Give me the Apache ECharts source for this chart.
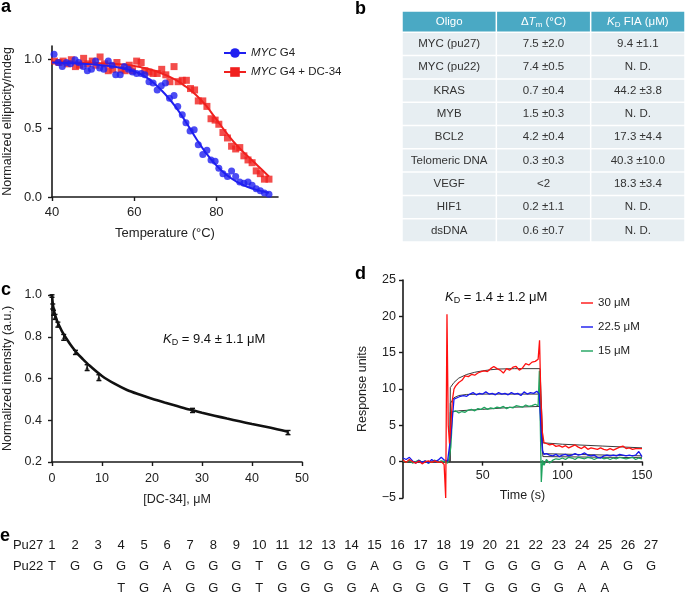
<!DOCTYPE html>
<html><head><meta charset="utf-8">
<script src="https://cdn.jsdelivr.net/npm/echarts@6/dist/echarts.min.js"></script>
<style>html,body{margin:0;padding:0;background:#fff}#c{width:685px;height:594px}</style>
</head><body><div id="c"></div>
<script>
// ---------- Panel a data ----------
const blueCD = [[40.5,1.04],[41.5,0.98],[42.5,0.95],[43.5,0.98],[44.5,0.97],[45.6,1.00],[46.5,0.98],[47.6,0.95],[48.6,0.92],[49.6,0.93],[50.6,0.99],[51.6,0.94],[52.6,0.93],[53.7,0.99],[54.6,0.96],[55.5,0.89],[56.6,0.89],[57.6,0.95],[58.6,0.93],[59.6,0.91],[60.6,0.90],[61.7,0.90],[62.6,0.89],[63.6,0.84],[64.6,0.83],[65.6,0.78],[66.6,0.81],[67.6,0.83],[68.6,0.72],[69.7,0.74],[70.6,0.66],[71.7,0.60],[72.6,0.54],[73.6,0.48],[74.6,0.49],[75.6,0.38],[76.7,0.31],[77.7,0.34],[78.7,0.27],[79.7,0.26],[80.6,0.21],[81.6,0.17],[82.7,0.15],[83.7,0.19],[84.7,0.15],[85.7,0.11],[86.7,0.10],[87.7,0.11],[88.7,0.085],[89.7,0.06],[90.7,0.045],[91.7,0.03],[92.8,0.02]];
const redCD = [[40.6,0.99],[41.7,0.98],[42.7,0.99],[43.7,0.97],[44.7,1.00],[45.7,0.95],[46.7,0.96],[47.7,1.01],[48.7,0.97],[49.8,0.99],[50.7,0.96],[51.7,1.02],[52.8,0.97],[53.7,0.92],[54.8,0.93],[55.8,0.98],[56.8,0.93],[57.8,0.92],[58.8,0.96],[59.6,0.92],[60.6,0.99],[61.7,0.98],[62.6,0.92],[63.6,0.91],[64.6,0.90],[65.6,0.90],[66.7,0.93],[67.7,0.89],[68.7,0.84],[69.7,0.95],[70.7,0.84],[71.7,0.85],[72.7,0.85],[73.7,0.79],[74.7,0.78],[75.6,0.70],[76.7,0.70],[77.7,0.66],[78.7,0.57],[79.7,0.56],[80.6,0.53],[81.6,0.47],[82.7,0.43],[83.7,0.37],[84.7,0.35],[85.7,0.36],[86.7,0.30],[87.7,0.27],[88.7,0.25],[89.7,0.19],[90.7,0.17],[91.7,0.13],[92.8,0.13]];
const blueFit = [[40,0.98],[45,0.975],[50,0.965],[55,0.95],[60,0.915],[62.5,0.88],[65,0.825],[67.5,0.75],[70,0.66],[72.5,0.55],[75,0.43],[77.5,0.32],[80,0.23],[82.5,0.16],[85,0.11],[87.5,0.075],[90,0.05],[92.8,0.03]];
const redFit = [[40,0.985],[45,0.98],[50,0.975],[55,0.97],[60,0.955],[65,0.92],[70,0.855],[72.5,0.805],[75,0.745],[77.5,0.665],[80,0.565],[82.5,0.465],[85,0.375],[87.5,0.3],[90,0.23],[92.8,0.15]];
const legendA = ['MYC G4','MYC G4 + DC-34'];

// ---------- Panel b data ----------
const tableHeaders = ['Oligo','{n|\u0394}{i|T}{s|m} (\u00b0C)','{i|K}{s|D} FIA (\u03bcM)'];
const oligos = ['MYC (pu27)','MYC (pu22)','KRAS','MYB','BCL2','Telomeric DNA','VEGF','HIF1','dsDNA'];
const dTm = ['7.5 \u00b12.0','7.4 \u00b10.5','0.7 \u00b10.4','1.5 \u00b10.3','4.2 \u00b10.4','0.3 \u00b10.3','<2','0.2 \u00b11.1','0.6 \u00b10.7'];
const kdFIA = ['9.4 \u00b11.1','N. D.','44.2 \u00b13.8','N. D.','17.3 \u00b14.4','40.3 \u00b110.0','18.3 \u00b13.4','N. D.','N. D.'];

// ---------- Panel c data ----------
const fiaPts = [[0,0.995,0.006],[0.15,0.945,0.012],[0.3,0.915,0.012],[0.6,0.895,0.012],[1.17,0.858,0.012],[2.34,0.797,0.014],[4.69,0.725,0.01],[7.03,0.652,0.014],[9.38,0.604,0.014],[28.1,0.447,0.01],[47.2,0.341,0.01]];
const fiaFit = [[0,1.0],[0.2,0.95],[0.5,0.915],[1,0.877],[1.5,0.85],[2,0.826],[3,0.787],[4,0.752],[5,0.722],[6,0.697],[7.5,0.662],[10,0.612],[12.5,0.575],[15,0.545],[17.5,0.523],[20,0.503],[22.5,0.485],[25,0.468],[27.5,0.451],[30,0.436],[32.5,0.422],[35,0.408],[37.5,0.395],[40,0.382],[42.5,0.37],[45,0.357],[47.2,0.345]];

// ---------- Panel d data ----------
const spr30 = [[0,0.2],[2,-0.1],[4,0.3],[6,0.0],[8,-0.2],[10,0.1],[12,-0.3],[14,0.0],[16,0.1],[18,-0.1],[20,0.1],[22,-0.1],[24,0.0],[25.8,-0.4],[26.8,-5],[27.6,20.3],[28.4,5],[29.2,2.5],[30,5],[31,8.5],[32,10],[33,10.4],[35,10.9],[37,11.2],[39,11.8],[41,11.7],[43,12.0],[45,11.9],[47,12.2],[49,12.4],[51,12.5],[53,12.4],[55,12.8],[57,13.1],[59,12.8],[61,12.6],[63,12.2],[65,12.8],[67,12.6],[69,13.0],[71,13.1],[73,12.6],[75,12.9],[77,13.5],[79,13.3],[81,13.7],[83,13.8],[84.8,14.1],[85.7,16.7],[86.5,9],[87.5,4],[88.5,2.6],[90,2.5],[92,2.3],[94,2.4],[96,2.1],[98,2.2],[100,2.0],[102,2.2],[104,1.9],[106,2.1],[108,2.3],[110,2.0],[112,1.8],[114,2.1],[116,1.7],[118,1.9],[120,1.8],[122,1.7],[124,1.9],[126,1.7],[128,1.6],[130,1.8],[132,1.6],[134,1.8],[136,2.0],[138,2.15],[140,1.8],[142,1.9],[144,1.7],[146,1.8],[148,1.8],[150,1.8]];
const spr22 = [[0,0.5],[2,0.3],[4,0.6],[6,0.1],[8,-0.2],[10,0.2],[12,-0.1],[14,0.1],[16,-0.2],[18,0.3],[20,0.0],[22,0.2],[24,0.6],[26,0.2],[28,0.1],[29,0.3],[30,3.5],[31,6],[32,8.6],[34,8.8],[36,9.0],[38,9.1],[40,9.0],[42,9.3],[44,9.5],[46,9.2],[48,9.4],[50,9.3],[52,9.6],[54,9.3],[56,9.4],[58,9.2],[60,9.5],[62,9.3],[64,9.4],[66,9.2],[68,9.5],[70,9.3],[72,9.4],[74,9.1],[76,9.6],[78,9.3],[80,9.5],[82,9.4],[84,9.7],[85.5,9.3],[86.5,5],[87.5,1.5],[88.5,1.0],[90,1.1],[92,0.9],[94,0.8],[96,1.0],[98,0.7],[100,0.9],[102,1.0],[104,0.8],[106,0.9],[108,1.1],[110,0.9],[112,1.0],[114,1.2],[116,0.9],[118,0.8],[120,0.9],[122,0.6],[124,0.5],[126,0.8],[128,0.9],[130,0.8],[132,0.9],[134,0.8],[136,1.0],[138,0.9],[140,0.8],[142,0.9],[144,0.8],[146,0.9],[148,1.4],[149,1.2],[150,0.7]];
const spr15 = [[0,0.1],[2,-0.1],[4,0.2],[6,-0.2],[8,0.0],[10,0.2],[12,-0.1],[14,0.1],[16,-0.2],[18,0.0],[20,0.2],[22,-0.1],[24,0.1],[26,0.0],[28,-0.2],[29,0.5],[30,2],[30.5,4],[31,6.9],[33,7.0],[35,6.7],[37,6.9],[39,6.8],[41,7.1],[43,7.2],[45,7.0],[47,7.3],[49,7.2],[51,7.5],[53,7.2],[55,7.4],[57,7.3],[59,7.5],[61,7.4],[63,7.6],[65,7.3],[67,7.5],[69,7.4],[71,7.7],[73,7.6],[75,7.5],[77,7.8],[79,7.6],[81,7.7],[83,7.9],[84.8,7.7],[85.6,12.5],[86.8,-2.8],[87.6,0.2],[88.5,-0.5],[90,0.3],[92,-0.2],[94,0.2],[96,0.4],[98,0.3],[100,0.5],[102,0.3],[104,0.6],[106,0.5],[108,0.3],[110,0.6],[112,0.5],[114,0.4],[116,0.6],[118,0.5],[120,0.3],[122,0.5],[124,0.6],[126,0.4],[128,0.5],[130,0.3],[132,0.5],[134,0.4],[136,0.6],[138,0.5],[140,0.4],[142,0.5],[144,0.6],[146,0.3],[148,0.5],[150,0.4]];
const fit30 = [[0,0],[29.5,0],[29.7,10.2],[32,10.9],[35,11.5],[40,12.0],[45,12.3],[50,12.5],[55,12.65],[60,12.75],[70,12.8],[86,12.8],[87.8,2.6],[100,2.4],[125,2.15],[150,1.9]];
const fit22 = [[0,0],[29.5,0],[29.7,8.0],[32,8.8],[35,9.1],[40,9.25],[50,9.3],[86,9.3],[87.8,1.1],[150,0.8]];
const fit15 = [[0,0],[29.5,0],[29.7,6.8],[35,7.0],[50,7.2],[70,7.5],[86,7.6],[87.8,0.7],[150,0.55]];
const legendD = ['30 \u03bcM','22.5 \u03bcM','15 \u03bcM'];

// ---------- Panel e data ----------
const rowLabels = ['Pu27','Pu22',''];
const positions = ['1','2','3','4','5','6','7','8','9','10','11','12','13','14','15','16','17','18','19','20','21','22','23','24','25','26','27'];
const pu27Seq = 'TGGGGAGGGTGGGGAGGGTGGGGAAGG';
const pu22Seq = 'TGAGGGTGGGGAGGGTGGGGAA';
const pu22StartPos = 4;

// ---------- build ----------
const FF = '"Liberation Sans", Arial, Helvetica, sans-serif';
const INK = '#1a1a1a';

function ax(o){
  const base = {
    type:'value', nameLocation:'middle',
    axisLine:{show:true, onZero:false, lineStyle:{color:INK, width:1.6}},
    axisTick:{show:true, length:4, lineStyle:{color:INK, width:1.4}},
    axisLabel:{color:'#222', fontSize:12.5, fontFamily:FF, margin:10},
    splitLine:{show:false},
    nameTextStyle:{color:'#222', fontSize:12.5, fontFamily:FF}
  };
  for (const k in o){
    if (base[k] && typeof base[k]==='object' && !Array.isArray(base[k]) && typeof o[k]==='object' && !Array.isArray(o[k])) base[k] = Object.assign({}, base[k], o[k]);
    else base[k] = o[k];
  }
  return base;
}

const tableCells = [];
tableHeaders.forEach((h,i)=>tableCells.push({value:[i,0], text:h, head:true}));
oligos.forEach((o,r)=>{
  tableCells.push({value:[0,r+1], text:oligos[r]});
  tableCells.push({value:[1,r+1], text:dTm[r]});
  tableCells.push({value:[2,r+1], text:kdFIA[r]});
});

const seqCells = [];
rowLabels.forEach((l,r)=>{ if(l) seqCells.push({value:[-1,r], text:l, head:true}); });
positions.forEach((p,i)=>seqCells.push({value:[i+1,0], text:p}));
pu27Seq.split('').forEach((c,i)=>seqCells.push({value:[i+1,1], text:c}));
pu22Seq.split('').forEach((c,i)=>seqCells.push({value:[i+pu22StartPos,2], text:c}));

const RICH = {
  n:{fontSize:11.5, fontFamily:FF},
  i:{fontSize:11.5, fontStyle:'italic', fontFamily:FF},
  s:{fontSize:8, fontFamily:FF, padding:[6,0,0,0]}
};
const KRICH = {
  k:{fontSize:13, fontStyle:'italic', fontFamily:FF, fill:'#111'},
  s:{fontSize:9, fontFamily:FF, padding:[7,0,0,0], fill:'#111'}
};

// panel d geometry (x axis is drawn at y = 0)
const dGrid = {left:403, top:280, width:239, height:218};
const dYMin = -5, dYMax = 25;
const dAxisOffset = -dGrid.height * (0 - dYMin) / (dYMax - dYMin);

const grids = [
  {left:52, top:46, width:226, height:151},
  {left:402, top:9, width:283, height:233},
  {left:52, top:295, width:250, height:167},
  dGrid,
  {left:5.9, top:545, width:645.1, height:43}
].map(g=>Object.assign({outerBoundsMode:'none', containLabel:false}, g));

const option = {
  animation:false,
  backgroundColor:'#fff',
  textStyle:{fontFamily:FF},
  grid: grids,
  xAxis:[
    ax({gridIndex:0, min:40, max:95, interval:20, name:'Temperature (\u00b0C)', nameGap:30,
        axisTick:{customValues:[40,60,80]}, axisLabel:{customValues:[40,60,80], fontSize:13, margin:9}, nameTextStyle:{fontSize:13}}),
    {gridIndex:1, type:'category', data:['0','1','2'], show:false},
    ax({gridIndex:2, min:0, max:50, interval:10, name:'[DC-34], \u03bcM', nameGap:31, axisLabel:{margin:10}}),
    ax({gridIndex:3, min:0, max:150, interval:50, name:'Time (s)', nameGap:27, offset:dAxisOffset,
        axisTick:{customValues:[50,100,150]}, axisLabel:{customValues:[50,100,150], margin:7}}),
    {gridIndex:4, type:'value', min:-1, max:27, show:false}
  ],
  yAxis:[
    ax({gridIndex:0, min:0, max:1.1, interval:0.5, name:'Normalized ellipticity/mdeg', nameGap:38,
        axisTick:{customValues:[0,0.5,1.0]}, axisLabel:{customValues:[0,0.5,1.0], fontSize:13, formatter:v=>v.toFixed(1)}}),
    {gridIndex:1, type:'category', data:['h','1','2','3','4','5','6','7','8','9'], inverse:true, show:false},
    ax({gridIndex:2, min:0.2, max:1.0, interval:0.2, name:'Normalized intensity (a.u.)', nameGap:38,
        axisLabel:{formatter:v=>v.toFixed(1)}}),
    ax({gridIndex:3, min:dYMin, max:dYMax, interval:5, name:'Response units', nameGap:34,
        axisLabel:{margin:7, formatter:v=>String(v).replace('-','\u2212')}}),
    {gridIndex:4, type:'value', min:0, max:2, inverse:true, show:false}
  ],
  legend:[
    {data:legendA, orient:'vertical', left:218, top:42, itemWidth:22, itemHeight:12, itemGap:7,
     selectedMode:false, formatter:n=>n.replace('MYC','{i|MYC}'),
     textStyle:{fontSize:11.5, color:'#222', fontFamily:FF, rich:{i:{fontSize:11.5, fontStyle:'italic', fontFamily:FF, color:'#222'}}}},
    {data:legendD, orient:'vertical', left:576, top:292, itemWidth:12, itemHeight:14, itemGap:12,
     icon:'path://M0,6.3h12v1.4h-12z',
     selectedMode:false, textStyle:{fontSize:11.5, color:'#222', fontFamily:FF}}
  ],
  series:[
    // panel a
    {name:'MYC G4', type:'line', xAxisIndex:0, yAxisIndex:0, data:blueFit, smooth:0.4, showSymbol:false,
     symbol:'circle', symbolSize:7, color:'#1f1ff0', lineStyle:{width:2, color:'#1f1ff0'}, z:3},
    {name:'blue pts', type:'scatter', xAxisIndex:0, yAxisIndex:0, data:blueCD, symbol:'circle', symbolSize:7,
     itemStyle:{color:'#1f1ff0'}, z:4},
    {name:'MYC G4 + DC-34', type:'line', xAxisIndex:0, yAxisIndex:0, data:redFit, smooth:0.4, showSymbol:false,
     symbol:'rect', symbolSize:7, color:'#f0201e', lineStyle:{width:2, color:'#f0201e'}, z:2},
    {name:'red pts', type:'scatter', xAxisIndex:0, yAxisIndex:0, data:redCD, symbol:'rect', symbolSize:7,
     itemStyle:{color:'#f0201e'}, z:2},
    // panel b table
    {name:'table', type:'custom', xAxisIndex:1, yAxisIndex:1, data:tableCells.map(c=>c.value), silent:true,
     renderItem:function(params, api){
       const cell = tableCells[params.dataIndex];
       const p = api.coord([api.value(0), api.value(1)]);
       const s = api.size([1,1]);
       let x0 = p[0]-s[0]/2, y0 = p[1]-s[1]/2, w = s[0], h = s[1];
       if (cell.head){ y0 += 2; h -= 2; }
       return {type:'group', children:[
         {type:'rect', shape:{x:x0+0.75, y:y0+0.75, width:w-1.5, height:h-1.5},
          style:{fill: cell.head ? '#4aa9c4' : '#e7eef2'}},
         {type:'text', style:{x:p[0], y:y0+h/2, text:cell.text, rich:RICH,
          fill: cell.head ? '#ffffff' : '#333333', fontSize:11.5, fontFamily:FF,
          align:'center', verticalAlign:'middle'}}
       ]};
     }},
    // panel c
    {name:'fia fit', type:'line', xAxisIndex:2, yAxisIndex:2, data:fiaFit, smooth:0.3, showSymbol:false,
     lineStyle:{width:2.6, color:'#111'}, z:3},
    {name:'fia err', type:'custom', xAxisIndex:2, yAxisIndex:2, data:fiaPts, z:4,
     renderItem:function(params, api){
       const x = api.value(0), y = api.value(1), e = api.value(2);
       const lo = api.coord([x, y-e]), hi = api.coord([x, y+e]);
       const st = {stroke:'#111', lineWidth:1.4};
       return {type:'group', children:[
         {type:'line', shape:{x1:lo[0], y1:lo[1], x2:hi[0], y2:hi[1]}, style:st},
         {type:'line', shape:{x1:lo[0]-2.5, y1:lo[1], x2:lo[0]+2.5, y2:lo[1]}, style:st},
         {type:'line', shape:{x1:hi[0]-2.5, y1:hi[1], x2:hi[0]+2.5, y2:hi[1]}, style:st}
       ]};
     }},
    {name:'fia pts', type:'scatter', xAxisIndex:2, yAxisIndex:2, data:fiaPts.map(d=>[d[0],d[1]]),
     symbol:'triangle', symbolSize:4, itemStyle:{color:'#111'}, z:5},
    // panel d
    {name:'fit15', type:'line', xAxisIndex:3, yAxisIndex:3, data:fit15, showSymbol:false, lineStyle:{width:1, color:'#3a3a3a'}, z:2},
    {name:'fit22', type:'line', xAxisIndex:3, yAxisIndex:3, data:fit22, showSymbol:false, lineStyle:{width:1, color:'#3a3a3a'}, z:2},
    {name:'fit30', type:'line', xAxisIndex:3, yAxisIndex:3, data:fit30, showSymbol:false, lineStyle:{width:1, color:'#3a3a3a'}, z:2},
    {name:legendD[2], type:'line', xAxisIndex:3, yAxisIndex:3, data:spr15, showSymbol:false, symbol:'none',
     color:'#1ea35e', lineStyle:{width:1.3, color:'#1ea35e'}, z:3},
    {name:legendD[1], type:'line', xAxisIndex:3, yAxisIndex:3, data:spr22, showSymbol:false, symbol:'none',
     color:'#1717ee', lineStyle:{width:1.3, color:'#1717ee'}, z:4},
    {name:legendD[0], type:'line', xAxisIndex:3, yAxisIndex:3, data:spr30, showSymbol:false, symbol:'none',
     color:'#ff1010', lineStyle:{width:1.3, color:'#ff1010'}, z:5},
    // panel e
    {name:'seq', type:'custom', xAxisIndex:4, yAxisIndex:4, data:seqCells.map(c=>c.value), silent:true, clip:false,
     renderItem:function(params, api){
       const cell = seqCells[params.dataIndex];
       const p = api.coord([api.value(0), api.value(1)]);
       return {type:'text', style:{x: cell.head ? p[0]+7 : p[0], y:p[1], text:cell.text,
         fill:'#1a1a1a', fontSize:13, fontFamily:FF, align: cell.head ? 'left' : 'center', verticalAlign:'middle'}};
     }}
  ],
  graphic:[
    {type:'text', x:1, y:7, style:{text:'a', fontSize:18, fontWeight:'bold', fontFamily:FF, fill:'#000', verticalAlign:'middle'}},
    {type:'text', x:355, y:9, style:{text:'b', fontSize:18, fontWeight:'bold', fontFamily:FF, fill:'#000', verticalAlign:'middle'}},
    {type:'text', x:1, y:290, style:{text:'c', fontSize:18, fontWeight:'bold', fontFamily:FF, fill:'#000', verticalAlign:'middle'}},
    {type:'text', x:355, y:274, style:{text:'d', fontSize:18, fontWeight:'bold', fontFamily:FF, fill:'#000', verticalAlign:'middle'}},
    {type:'text', x:0, y:536, style:{text:'e', fontSize:18, fontWeight:'bold', fontFamily:FF, fill:'#000', verticalAlign:'middle'}},
    {type:'text', x:163, y:339, style:{text:'{k|K}{s|D} = 9.4 \u00b1 1.1 \u03bcM', rich:KRICH, fontSize:13, fontFamily:FF, fill:'#111', verticalAlign:'middle'}},
    {type:'text', x:445, y:297, style:{text:'{k|K}{s|D} = 1.4 \u00b1 1.2 \u03bcM', rich:KRICH, fontSize:13, fontFamily:FF, fill:'#111', verticalAlign:'middle'}}
  ]
};

const chart = echarts.init(document.getElementById('c'), null, {renderer:'canvas', width:685, height:594});
chart.setOption(option);
</script></body></html>
